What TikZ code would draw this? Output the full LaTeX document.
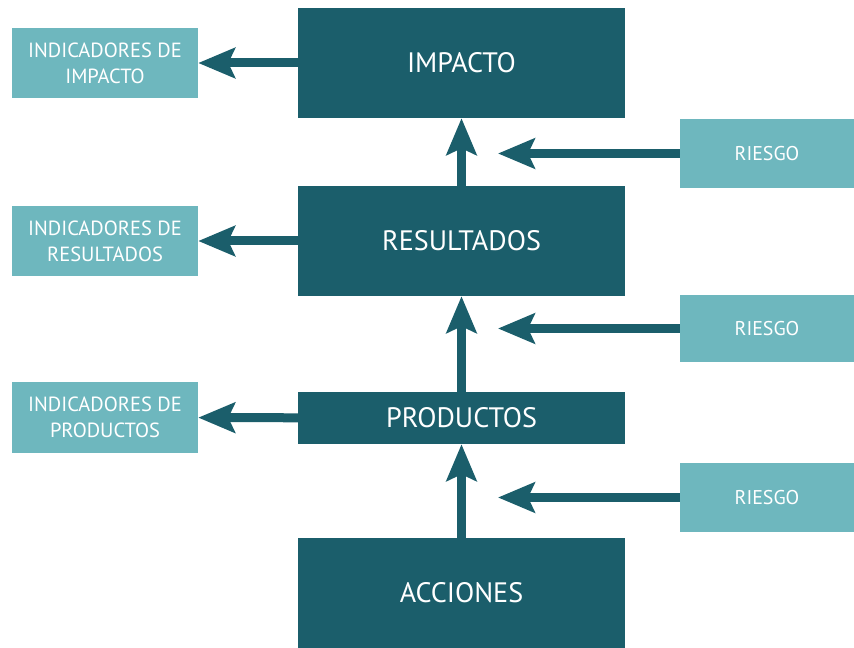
\documentclass[tikz,border=0pt]{standalone}
\usepackage{fontspec}
\setmainfont{PT Sans}
\usepackage{xcolor}
\definecolor{darkteal}{RGB}{27,94,107}
\definecolor{lightteal}{RGB}{110,183,190}
\usepackage{tikz}
\usetikzlibrary{arrows.meta}
\tikzstyle{level} = [rectangle, fill=darkteal, text=white, inner sep=0pt,
  minimum width=9.81cm, minimum height=3.3cm, font=\fontsize{24}{28}\selectfont]
\tikzstyle{indicator} = [rectangle, fill=lightteal, text=white, inner sep=0pt,
  align=center, minimum width=5.58cm, minimum height=2.1cm,
  font=\fontsize{17.5}{22}\selectfont]
\tikzstyle{risk} = [rectangle, fill=lightteal, text=white, inner sep=0pt,
  minimum width=5.22cm, minimum height=2.07cm, font=\fontsize{17}{22}\selectfont]
\tikzstyle{flow} = [draw=darkteal, line width=0.27cm,
  -{Stealth[length=1.1cm, width=0.9cm, inset=0.2cm]}]

\begin{document}
\begin{tikzpicture}[x=0.03cm, y=-0.03cm]
  \useasboundingbox (0,0) rectangle (854,648);
  % main chain
  \node[level] (impacto) at (461.5, 63) {IMPACTO};
  \node[level] (resultados) at (461.5, 241) {RESULTADOS};
  \node[level, minimum height=1.56cm] (productos) at (461.5, 418) {PRODUCTOS};
  \node[level] (acciones) at (461.5, 593) {ACCIONES};

  % indicators
  \node[indicator] (indimp) at (105, 63) {INDICADORES DE\\IMPACTO};
  \node[indicator] (indres) at (105, 241) {INDICADORES DE\\RESULTADOS};
  \node[indicator] (indprod) at (105, 417.5) {INDICADORES DE\\PRODUCTOS};

  % risks
  \node[risk] (riesgoa) at (767, 153.5) {RIESGO};
  \node[risk, minimum height=2.01cm] (riesgob) at (767, 328.5) {RIESGO};
  \node[risk] (riesgoc) at (767, 497.5) {RIESGO};
  \coordinate (ra) at (498, 153.5);
  \coordinate (rb) at (498, 328.5);
  \coordinate (rc) at (498, 497.5);

  \path[flow] (acciones) -- (productos);
  \path[flow] (productos) -- (resultados);
  \path[flow] (resultados) -- (impacto);

  \path[flow] (impacto) -- (indimp);
  \path[flow] (resultados) -- (indres);
  \path[flow] (productos) -- (indprod);

  \path[flow] (riesgoa) -- (ra);
  \path[flow] (riesgob) -- (rb);
  \path[flow] (riesgoc) -- (rc);
\end{tikzpicture}
\end{document}
